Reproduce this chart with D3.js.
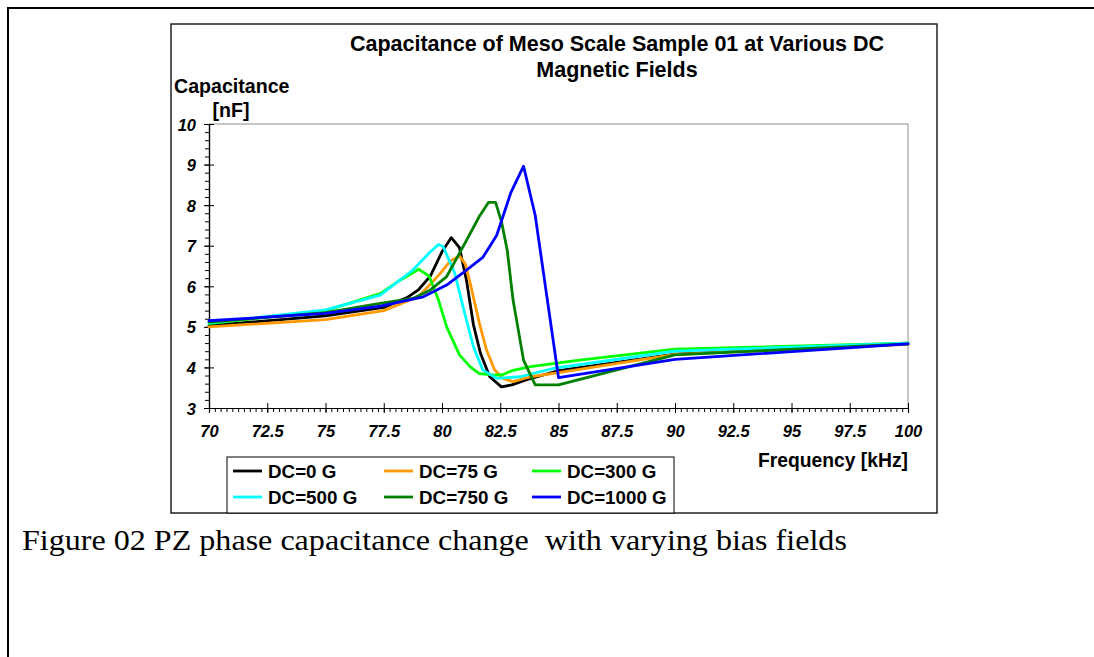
<!DOCTYPE html>
<html><head><meta charset="utf-8">
<script src="https://cdn.jsdelivr.net/npm/d3@7/dist/d3.min.js"></script>
<style>html,body{margin:0;padding:0;background:#fff;}svg{display:block;}text{white-space:pre;}</style>
</head><body>
<script>
// ---------------- DATA ----------------
const chartTitle = ["Capacitance of Meso Scale Sample 01 at Various DC", "Magnetic Fields"];
const yTitle = ["Capacitance", "[nF]"];
const xTitle = "Frequency [kHz]";
const caption = "Figure 02 PZ phase capacitance change  with varying bias fields";
const seriesNames = ["DC=0 G", "DC=75 G", "DC=300 G", "DC=500 G", "DC=750 G", "DC=1000 G"];
const xTickLabels = ["70","72.5","75","77.5","80","82.5","85","87.5","90","92.5","95","97.5","100"];
const yTickLabels = ["3","4","5","6","7","8","9","10"];

const freqDC0    = [70, 75, 77.5, 78.5, 79, 79.5, 80, 80.4, 80.75, 81.05, 81.35, 81.65, 82.05, 82.55, 83, 83.6, 85, 90, 100];
const capDC0     = [5.03, 5.27, 5.48, 5.72, 5.92, 6.25, 6.85, 7.2, 6.95, 6.15, 5.05, 4.35, 3.77, 3.52, 3.57, 3.69, 3.92, 4.33, 4.58];
const freqDC75   = [70, 75, 77.5, 79, 79.9, 80.35, 80.75, 81, 81.2, 81.6, 81.9, 82.25, 82.6, 83.05, 83.8, 85, 90, 100];
const capDC75    = [5.0, 5.18, 5.4, 5.75, 6.3, 6.62, 6.75, 6.55, 6.1, 5.1, 4.45, 3.95, 3.73, 3.65, 3.77, 3.87, 4.32, 4.57];
const freqDC300  = [70, 75, 77.35, 78.2, 79, 79.45, 79.85, 80.2, 80.75, 81.2, 81.6, 82.25, 82.6, 83, 83.8, 85.9, 90, 100];
const capDC300   = [5.08, 5.4, 5.82, 6.15, 6.42, 6.25, 5.66, 5.0, 4.31, 4.02, 3.85, 3.81, 3.82, 3.92, 4.02, 4.18, 4.45, 4.6];
const freqDC500  = [70, 75, 77.35, 78.75, 79.5, 79.85, 80.05, 80.55, 80.9, 81.35, 81.75, 82.35, 83.35, 84.8, 90, 100];
const capDC500   = [5.1, 5.42, 5.78, 6.4, 6.85, 7.03, 6.98, 6.32, 5.5, 4.51, 3.94, 3.73, 3.77, 3.98, 4.4, 4.6];
const freqDC750  = [70, 75, 77.35, 78.75, 79.5, 80.2, 80.9, 81.6, 82.0, 82.3, 82.55, 82.8, 83.05, 83.5, 84.0, 85.0, 90, 100];
const capDC750   = [5.12, 5.35, 5.58, 5.7, 5.91, 6.24, 6.97, 7.72, 8.07, 8.07, 7.6, 6.89, 5.66, 4.18, 3.57, 3.57, 4.31, 4.58];
const freqDC1000 = [70, 75, 77.35, 79.2, 80.2, 81.05, 81.75, 82.35, 82.95, 83.5, 84.0, 85.0, 90, 100];
const capDC1000  = [5.15, 5.33, 5.51, 5.74, 6.03, 6.4, 6.71, 7.26, 8.3, 8.96, 7.75, 3.75, 4.2, 4.58];

// ---------------- DRAW ----------------
const freqs = [freqDC0, freqDC75, freqDC300, freqDC500, freqDC750, freqDC1000];
const caps  = [capDC0, capDC75, capDC300, capDC500, capDC750, capDC1000];
const colors = ["#000000", "#FF9900", "#00FF00", "#00FFFF", "#008000", "#0000FF"];

const W = 1094, H = 657, K = 1.0;
const svg = d3.select("body").append("svg").attr("width", W).attr("height", H);
const FONT = "'Liberation Sans', Arial, sans-serif";

function txt(g, x, y, s, o = {}) {
  return g.append("text")
    .attr("transform", `translate(${x},${y}) scale(${o.k || K},1)`)
    .attr("text-anchor", o.anchor || "start")
    .attr("font-family", o.family || FONT)
    .attr("font-size", o.size || 15)
    .attr("font-weight", o.weight || "bold")
    .attr("font-style", o.style || "normal")
    .attr("xml:space", "preserve")
    .attr("fill", "#000")
    .text(s);
}

// outer page frame
svg.append("line").attr("x1", 7).attr("x2", W).attr("y1", 8).attr("y2", 8).attr("stroke", "#000").attr("stroke-width", 2);
svg.append("line").attr("x1", 8).attr("x2", 8).attr("y1", 7).attr("y2", H).attr("stroke", "#000").attr("stroke-width", 2);

// chart box
svg.append("rect").attr("x", 171).attr("y", 24).attr("width", 766).attr("height", 489)
  .attr("fill", "#fff").attr("stroke", "#222").attr("stroke-width", 1.5);

const x = d3.scaleLinear().domain([70, 100]).range([209, 908]);
const y = d3.scaleLinear().domain([3, 10]).range([408, 124]);

// plot border (top/right gray)
svg.append("path").attr("d", `M${x(70)},${y(10)}H${x(100)}V${y(3)}`).attr("fill", "none").attr("stroke", "#909090").attr("stroke-width", 1);

// title
txt(svg, 617, 51, chartTitle[0], {anchor: "middle", size: 21.5});
txt(svg, 617, 77, chartTitle[1], {anchor: "middle", size: 21.5});
// y title
txt(svg, 174, 93, yTitle[0], {size: 19.6});
txt(svg, 231, 117, yTitle[1], {anchor: "middle", size: 19.6});
// x title
txt(svg, 908, 467, xTitle, {anchor: "end", size: 19.3});

// axes
const yMajor = yTickLabels.map(Number);
const yMinor = d3.range(3, 10.001, 0.2).map(v => +v.toFixed(2));
const xMajor = xTickLabels.map(Number);
const xMinor = d3.range(70, 100.001, 0.25).map(v => +v.toFixed(2));

const gyMin = svg.append("g").attr("transform", `translate(${x(70)},0)`)
  .call(d3.axisLeft(y).tickValues(yMinor).tickSize(4).tickFormat(""));
const gxMin = svg.append("g").attr("transform", `translate(0,${y(3)})`)
  .call(d3.axisBottom(x).tickValues(xMinor).tickSize(4).tickFormat(""));
const gy = svg.append("g").attr("transform", `translate(${x(70)},0)`)
  .call(d3.axisLeft(y).tickValues(yMajor).tickSize(5).tickSizeOuter(0).tickFormat((d, i) => yTickLabels[i]));
const gx = svg.append("g").attr("transform", `translate(0,${y(3)})`)
  .call(d3.axisBottom(x).tickValues(xMajor).tickSize(5).tickSizeOuter(0).tickFormat((d, i) => xTickLabels[i]));
[gyMin, gxMin, gy, gx].forEach(g => {
  g.select(".domain").attr("stroke", "#000").attr("stroke-width", 1.2);
  g.selectAll(".tick line").attr("stroke", "#000").attr("stroke-width", 1);
});
gy.selectAll(".tick line").attr("x1", 5);
gx.selectAll(".tick line").attr("y1", -5);
gy.selectAll(".tick text")
  .attr("x", null).attr("dy", null)
  .attr("transform", `translate(-13,6) scale(${K},1)`)
  .attr("font-family", FONT).attr("font-size", 16.5).attr("font-weight", "bold").attr("font-style", "italic");
gx.selectAll(".tick text")
  .attr("y", null).attr("dy", null)
  .attr("transform", `translate(0,29) scale(${K},1)`)
  .attr("font-family", FONT).attr("font-size", 16.5).attr("font-weight", "bold").attr("font-style", "italic");

// series lines
const line = d3.line().x(d => x(d[0])).y(d => y(d[1]));
freqs.forEach((fs, i) => {
  const pts = fs.map((f, j) => [f, caps[i][j]]);
  svg.append("path").datum(pts).attr("d", line)
    .attr("fill", "none").attr("stroke", colors[i]).attr("stroke-width", 2.8)
    .attr("stroke-linejoin", "round").attr("stroke-linecap", "round");
});

// legend
const lg = svg.append("g");
lg.append("rect").attr("x", 227).attr("y", 457).attr("width", 447).attr("height", 56)
  .attr("fill", "#fff").attr("stroke", "#000").attr("stroke-width", 1);
const colX = [233, 384, 532], rowY = [471, 497];
seriesNames.forEach((n, i) => {
  const cx = colX[i % 3], cy = rowY[Math.floor(i / 3)];
  lg.append("line").attr("x1", cx).attr("x2", cx + 29).attr("y1", cy).attr("y2", cy)
    .attr("stroke", colors[i]).attr("stroke-width", 2.8);
  txt(lg, cx + 35, cy + 7, n, {size: 18.8});
});

// caption
txt(svg, 22, 550, caption, {family: "'Liberation Serif', 'Times New Roman', serif", weight: "normal", size: 30, k: 1.07});
</script>
</body></html>
